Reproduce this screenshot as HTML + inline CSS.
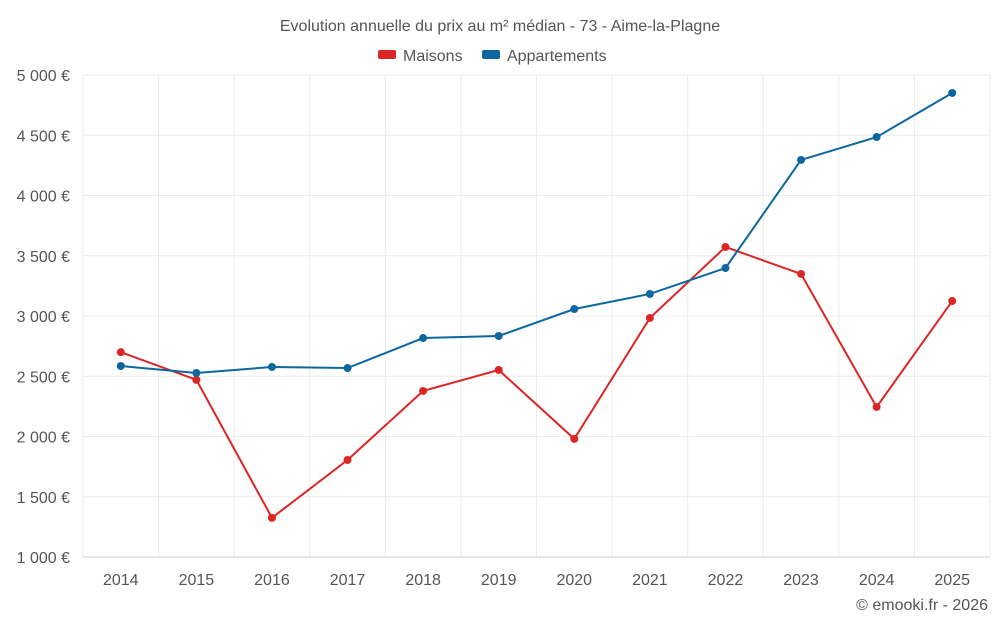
<!DOCTYPE html>
<html><head><meta charset="utf-8">
<style>
body{margin:0;background:#fff;font-family:"Liberation Sans",sans-serif;}
svg text{font-family:"Liberation Sans",sans-serif;fill:#555;}
</style></head>
<body>
<svg id="chart" width="1000" height="625">
<text x="500" y="31" text-anchor="middle" font-size="16">Evolution annuelle du prix au m² médian - 73 - Aime-la-Plagne</text>
<g>
<g><rect x="378" y="50" width="18" height="9" rx="2" fill="#dc2626"/><text x="403" y="61" font-size="16">Maisons</text></g>
<g><rect x="482" y="50" width="18" height="9" rx="2" fill="#0c67a0"/><text x="507" y="61" font-size="16">Appartements</text></g>
</g>
<g id="grid"></g><g id="axes"></g><g id="series"></g>
<text x="988" y="610" text-anchor="end" font-size="16">© emooki.fr - 2026</text>
</svg>
<script>
const years=[2014,2015,2016,2017,2018,2019,2020,2021,2022,2023,2024,2025];
const maisons=[2700,2470,1325,1805,2378,2552,1980,2983,3573,3349,2245,3124];
const appartements=[2585,2527,2577,2568,2817,2834,3058,3183,3398,4295,4485,4851];
const yTicks=[1000,1500,2000,2500,3000,3500,4000,4500,5000];
const yLabels=["1 000 €","1 500 €","2 000 €","2 500 €","3 000 €","3 500 €","4 000 €","4 500 €","5 000 €"];
const NS="http://www.w3.org/2000/svg";
const L=83,R=990,T=75,B=557;
const step=(R-L)/years.length;
const x=i=>L+step*(i+0.5);
const y=v=>B-(v-1000)/4000*(B-T);
function mk(tag,attrs,parent){const e=document.createElementNS(NS,tag);for(const k in attrs)e.setAttribute(k,attrs[k]);document.getElementById(parent).appendChild(e);return e;}
yTicks.forEach((v,i)=>{
 const g=mk('line',{x1:L,x2:R,y1:y(v),y2:y(v),stroke:i==0?'#ccc':'#ebebeb','stroke-width':1},'grid');
 
 
 const t=mk('text',{x:70,y:y(v)+6,'text-anchor':'end','font-size':16},'axes');t.textContent=yLabels[i];
 
 
});
for(let i=0;i<=years.length;i++){
 const g=mk('line',{x1:L+step*i,x2:L+step*i,y1:T,y2:B+(i==0?0:0),stroke:'#ebebeb','stroke-width':1},'grid');
 
 
}
years.forEach((yr,i)=>{
 const t=mk('text',{x:x(i),y:585,'text-anchor':'middle','font-size':16},'axes');t.textContent=yr;
 
 
});
function series(vals,color,name){
 const p=mk('polyline',{points:vals.map((v,i)=>x(i)+','+y(v)).join(' '),fill:'none',stroke:color,'stroke-width':2},'series');
 
 
 vals.forEach((v,i)=>{
  const c=mk('circle',{cx:x(i),cy:y(v),r:4,fill:color},'series');
  
  
 });
}
series(maisons,'#dc2626','maisons');
series(appartements,'#0c67a0','appartements');
</script>
</body></html>
